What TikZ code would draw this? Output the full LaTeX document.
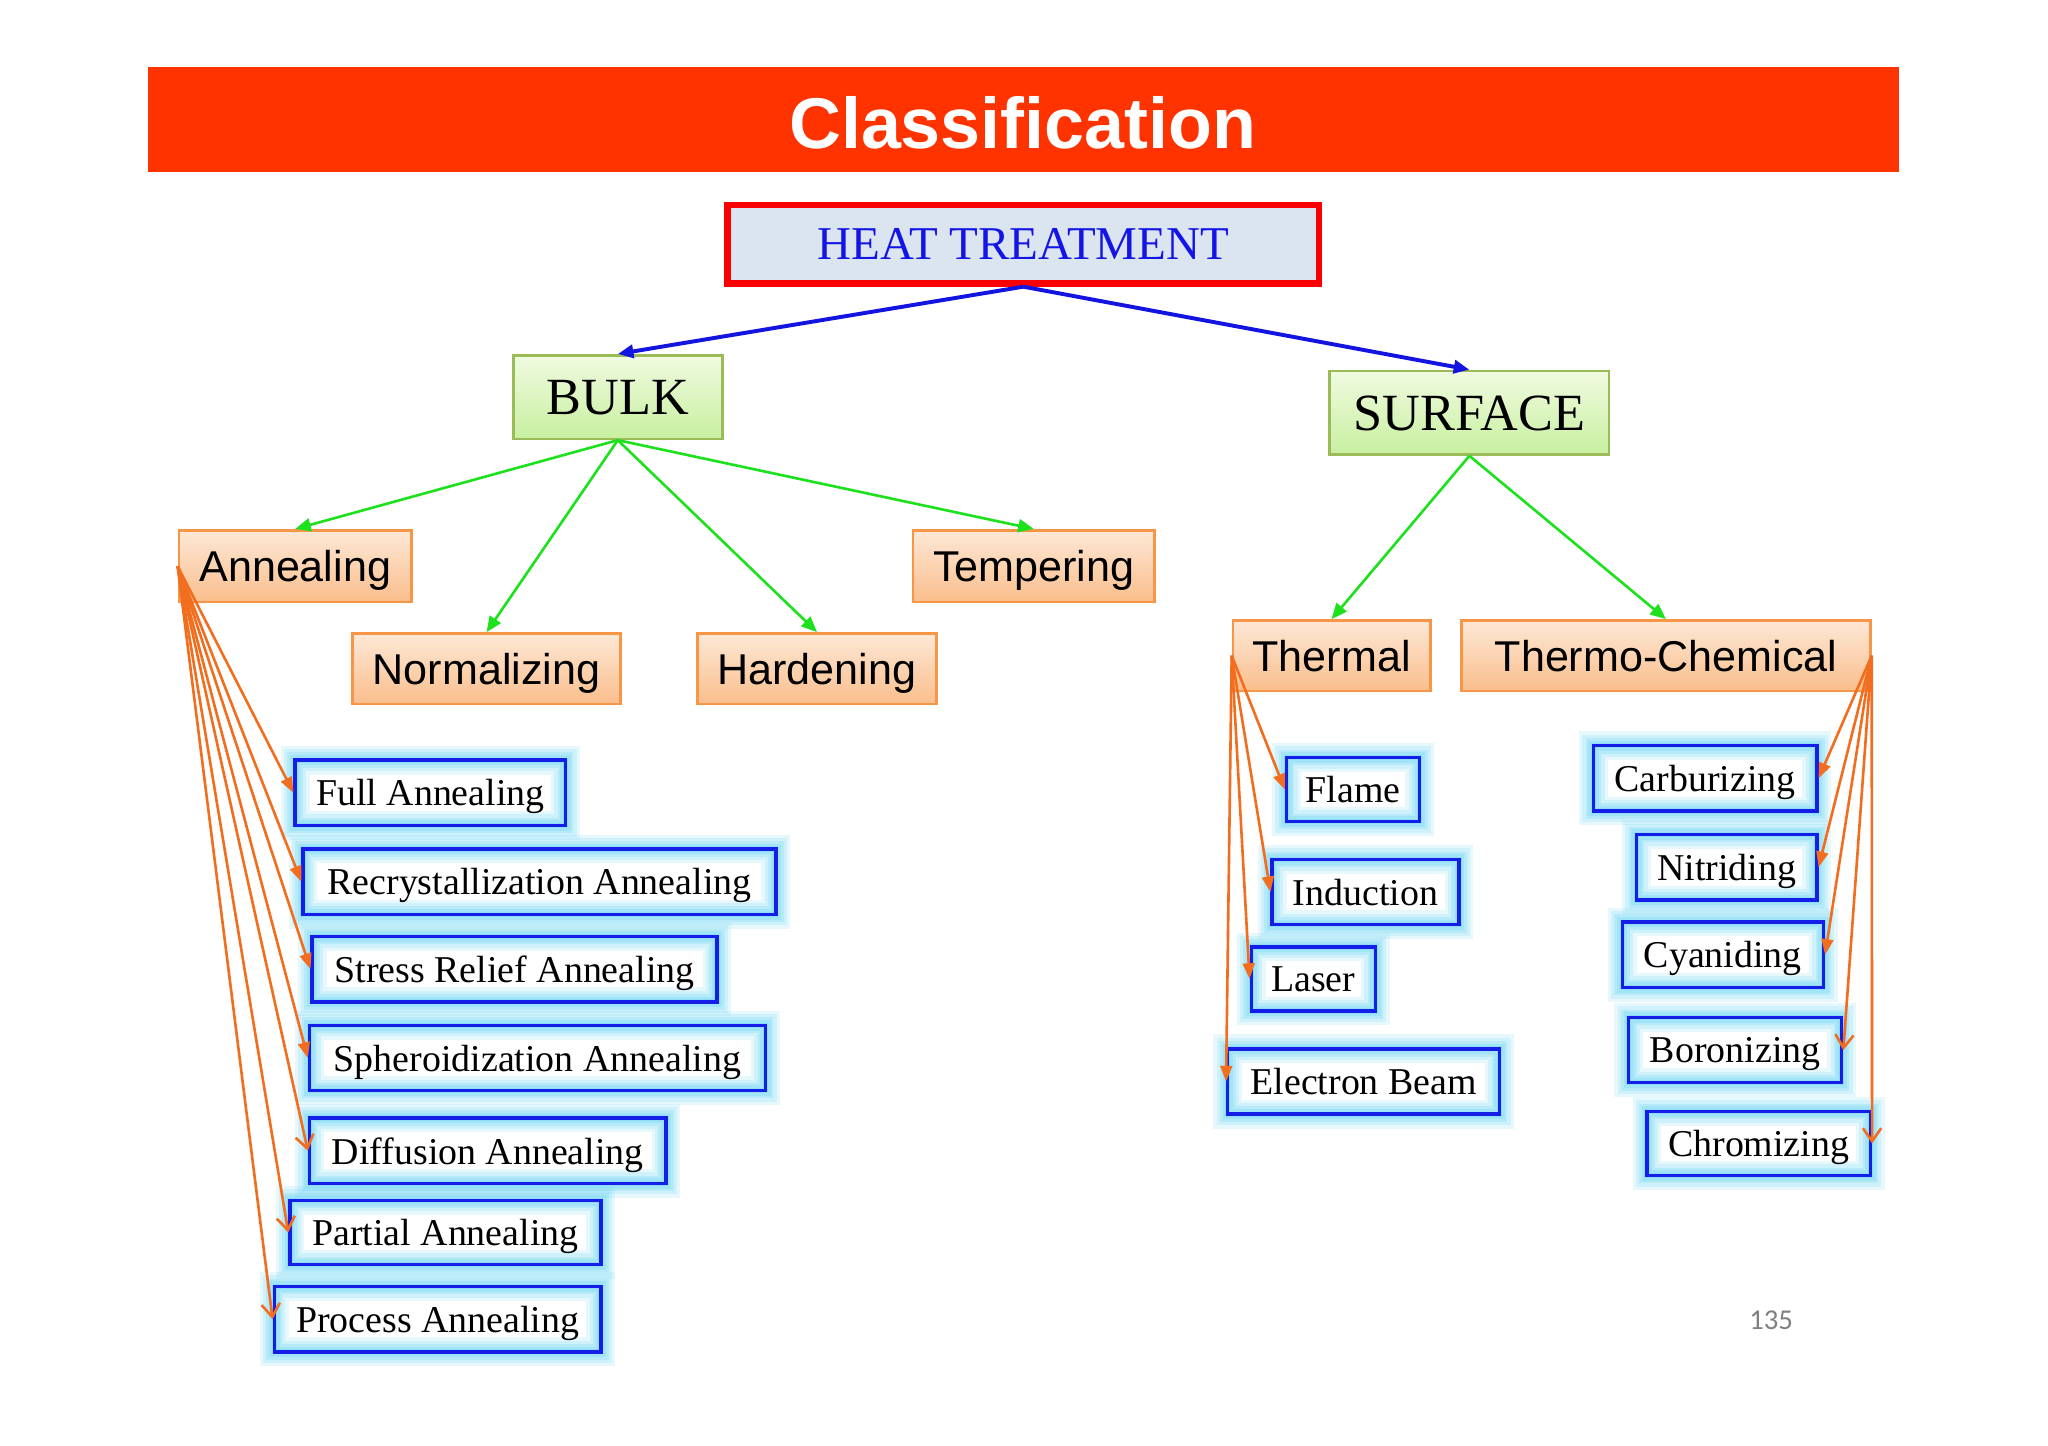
\documentclass[tikz,border=0pt]{standalone}
\usepackage{fontspec}
\setmainfont{Liberation Serif}
\newfontfamily\arialf{Liberation Sans}
\newfontfamily\calf{Carlito}
\usetikzlibrary{arrows.meta}
\definecolor{barred}{RGB}{255,51,0}
\definecolor{heatfill}{RGB}{218,229,240}
\definecolor{heatred}{RGB}{250,0,0}
\definecolor{heatblue}{RGB}{20,20,230}
\definecolor{orgborder}{RGB}{247,150,70}
\definecolor{orgtop}{RGB}{253,232,214}
\definecolor{orgbot}{RGB}{250,190,140}
\definecolor{grnborder}{RGB}{155,187,89}
\definecolor{grntop}{RGB}{240,250,224}
\definecolor{grnbot}{RGB}{200,240,160}
\definecolor{bluebord}{RGB}{20,30,230}
\definecolor{glowcol}{RGB}{100,210,245}
\definecolor{orgline}{RGB}{242,110,30}
\definecolor{grnline}{RGB}{30,225,30}
\definecolor{blueline}{RGB}{20,20,225}
\newcommand\mybox[7]{%
  \node[#2, minimum width={(#5-#3)*0.5pt}, minimum height={(#6-#4)*0.5pt}] (#1) at ({(#3+#5)/2},{(#4+#6)/2}) {#7};}
\tikzset{
  heatbox/.style={fill=heatfill, draw=heatred, line width=2.5pt, inner sep=0pt, text=heatblue,
    font=\fontsize{18}{20}\selectfont},
  greenbox/.style={draw=grnborder, line width=1pt, top color=grntop, bottom color=grnbot,
    inner sep=0pt, text depth=0pt, font=\fontsize{20}{22}\selectfont},
  orangebox/.style={draw=orgborder, line width=1pt, top color=orgtop, bottom color=orgbot,
    inner sep=0pt, text depth=0pt, font=\arialf\fontsize{16.5}{18}\selectfont},
  bluebox/.style={draw=bluebord, line width=1.3pt, inner sep=0pt, text depth=0pt, font=\fontsize{14.5}{16}\selectfont,
    preaction={fill=white},
    preaction={draw=glowcol, draw opacity=0.15, line width=11pt},
    preaction={draw=glowcol, draw opacity=0.18, line width=8.5pt},
    preaction={draw=glowcol, draw opacity=0.22, line width=6pt},
    preaction={draw=glowcol, draw opacity=0.26, line width=4pt},
    preaction={draw=glowcol, draw opacity=0.3, line width=2pt}},
  barr/.style={draw=blueline, line width=1.5pt, -{Triangle[length=6pt,width=5pt]}},
  garr/.style={draw=grnline, line width=1pt, -{Triangle[length=6pt,width=5pt]}},
  oarr/.style={draw=orgline, line width=1pt, -{Triangle[length=6pt,width=4.5pt]}},
  oarrv/.style={draw=orgline, line width=1pt, -{Straight Barb[length=5pt,width=7pt]}}
}
\begin{document}
\begin{tikzpicture}[x=0.5pt,y=-0.5pt]
\fill[white] (0,0) rectangle (1568,1107);
\useasboundingbox (0,0) rectangle (1568,1107);
% title bar
\fill[barred] (113,51) rectangle (1454,132);
\node[font=\arialf\bfseries\fontsize{27.5}{30}\selectfont, text=white] (title) at (783,94) {Classification};
% top levels
\mybox{heat}{heatbox}{557}{157}{1010}{217}{HEAT TREATMENT}
\mybox{bulk}{greenbox}{393}{272}{553}{336}{BULK}
\mybox{surf}{greenbox}{1018}{284}{1232}{348}{SURFACE}
% orange
\mybox{ann}{orangebox}{137}{406}{315}{461}{Annealing}
\mybox{norm}{orangebox}{270}{485}{475}{539}{Normalizing}
\mybox{hard}{orangebox}{534}{485}{717}{539}{Hardening}
\mybox{temp}{orangebox}{699}{406}{884}{461}{Tempering}
\mybox{therm}{orangebox}{944}{475}{1095}{529}{Thermal}
\mybox{tc}{orangebox}{1119}{475}{1432}{529}{Thermo-Chemical}
% blue left
\mybox{full}{bluebox}{226}{582}{433}{632}{Full Annealing}
\mybox{recr}{bluebox}{232}{650}{594}{700}{Recrystallization Annealing}
\mybox{stress}{bluebox}{239}{717}{549}{767}{Stress Relief Annealing}
\mybox{spher}{bluebox}{237}{785}{586}{835}{Spheroidization Annealing}
\mybox{diff}{bluebox}{237}{856}{510}{906}{Diffusion Annealing}
\mybox{part}{bluebox}{222}{919}{460}{968}{Partial Annealing}
\mybox{proc}{bluebox}{210}{985}{460}{1035}{Process Annealing}
% blue right
\mybox{flame}{bluebox}{985}{580}{1087}{629}{Flame}
\mybox{induc}{bluebox}{974}{658}{1117}{708}{Induction}
\mybox{laser}{bluebox}{958}{725}{1053}{774}{Laser}
\mybox{ebeam}{bluebox}{940}{803}{1148}{853}{Electron Beam}
\mybox{carb}{bluebox}{1220}{571}{1391}{621}{Carburizing}
\mybox{nitr}{bluebox}{1253}{639}{1391}{689}{Nitriding}
\mybox{cyani}{bluebox}{1242}{706}{1396}{756}{Cyaniding}
\mybox{boron}{bluebox}{1247}{779}{1410}{829}{Boronizing}
\mybox{chrom}{bluebox}{1261}{851}{1432}{900}{Chromizing}
% page number
\node[font=\calf\fontsize{11}{12}\selectfont, text=gray] (pg) at (1356,1011) {135};
% connectors
\draw[barr] (heat.south) -- (bulk.north);
\draw[barr] (heat.south) -- (surf.north);
\foreach \n in {ann,norm,hard,temp} \draw[garr] (bulk.south) -- (\n.north);
\foreach \n in {therm,tc} \draw[garr] (surf.south) -- (\n.north);
\foreach \n in {full,recr,stress,spher} \draw[oarr] (ann.west) -- (\n.west);
\foreach \n in {diff,part,proc} \draw[oarrv] (ann.west) -- (\n.west);
\foreach \n in {flame,induc,laser,ebeam} \draw[oarr] (therm.west) -- (\n.west);
\foreach \n in {carb,nitr,cyani} \draw[oarr] (tc.east) -- (\n.east);
\foreach \n in {boron,chrom} \draw[oarrv] (tc.east) -- (\n.east);
\end{tikzpicture}
\end{document}
